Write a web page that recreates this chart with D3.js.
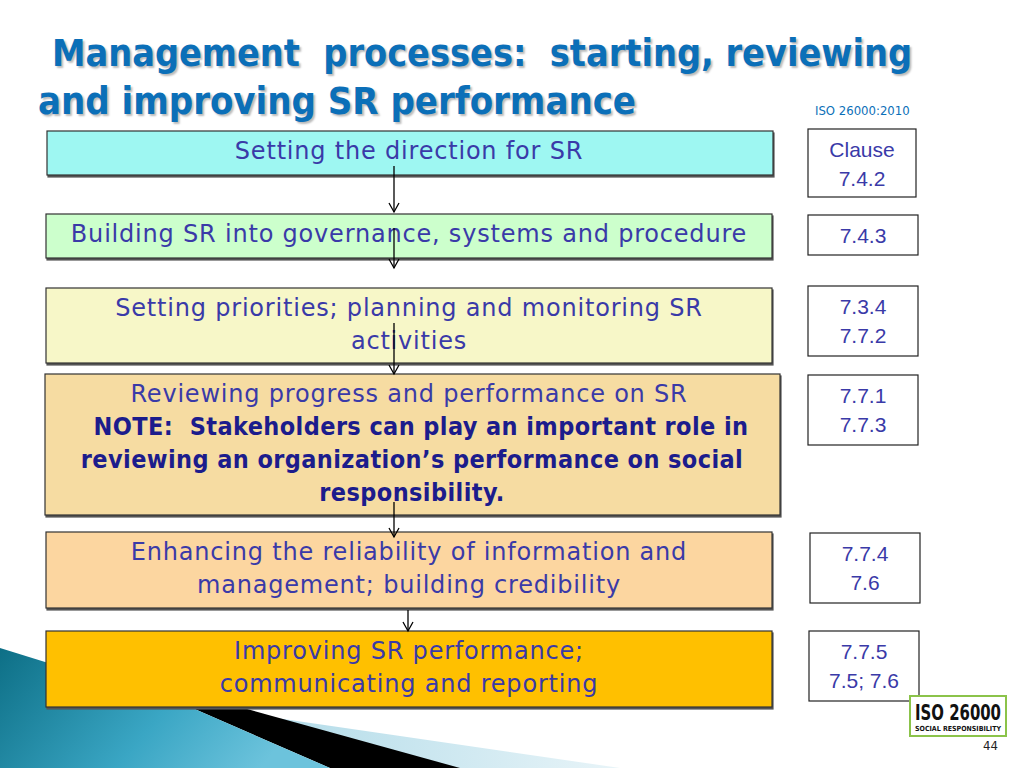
<!DOCTYPE html>
<html>
<head>
<script src="https://cdn.jsdelivr.net/npm/d3@7"></script>
<style>body{margin:0;background:#fff;} svg{display:block;} text{white-space:pre;}</style>
</head>
<body>
<div id="container"></div>
<script>
// Données de la diapositive
const titleLines = ["Management  processes:  starting, reviewing", "and improving SR performance"];
const steps = [
  ["Setting the direction for SR"],
  ["Building SR into governance, systems and procedure"],
  ["Setting priorities; planning and monitoring SR", "activities"],
  ["Reviewing progress and performance on SR"],
  ["Enhancing the reliability of information and", "management; building credibility"],
  ["Improving SR performance;", "communicating and reporting"]
];
const noteLines = ["NOTE:  Stakeholders can play an important role in", "reviewing an organization’s performance on social", "responsibility."];
const clauses = [["Clause", "7.4.2"], ["7.4.3"], ["7.3.4", "7.7.2"], ["7.7.1", "7.7.3"], ["7.7.4", "7.6"], ["7.7.5", "7.5; 7.6"]];
const fills = ["#9ef7f2", "#ccffcc", "#f7f7c8", "#f6dca2", "#fcd6a0", "#ffc000"];

// Mise en page
const boxes = [
  {x: 47, y: 131, w: 726, h: 44},
  {x: 46, y: 214, w: 726, h: 44},
  {x: 46, y: 288, w: 726, h: 75},
  {x: 45, y: 374, w: 735, h: 141},
  {x: 46, y: 532, w: 726, h: 76},
  {x: 46, y: 631, w: 726, h: 76}
];
const cboxes = [
  {x: 808, y: 129, w: 108, h: 68},
  {x: 808, y: 215, w: 110, h: 40},
  {x: 808, y: 286, w: 110, h: 70},
  {x: 808, y: 375, w: 110, h: 70},
  {x: 810, y: 533, w: 110, h: 70},
  {x: 809, y: 631, w: 110, h: 70}
];
const arrows = [[394, 166, 212], [394, 228, 268], [394, 323, 374], [394, 502, 537], [408, 610, 631]];

const svg = d3.select("#container").append("svg").attr("width", 1024).attr("height", 768);

// Décor en bas à gauche
const defs = svg.append("defs");
const g1 = defs.append("linearGradient").attr("id", "teal").attr("x1", 0).attr("y1", 0).attr("x2", 1).attr("y2", 0.3);
g1.append("stop").attr("offset", 0).attr("stop-color", "#0d6f86");
g1.append("stop").attr("offset", 0.6).attr("stop-color", "#3aa6c4");
g1.append("stop").attr("offset", 1).attr("stop-color", "#6cc3dc");
const g2 = defs.append("linearGradient").attr("id", "light").attr("x1", 0).attr("y1", 0).attr("x2", 1).attr("y2", 0);
g2.append("stop").attr("offset", 0).attr("stop-color", "#a8d7e6");
g2.append("stop").attr("offset", 1).attr("stop-color", "#e8f4f8");
svg.append("polygon").attr("points", "200,707 620,768 330,768").attr("fill", "url(#light)");
svg.append("polygon").attr("points", "190,707 240,707 460,768 330,768").attr("fill", "#000");
svg.append("polygon").attr("points", "0,648 190,707 330,768 0,768").attr("fill", "url(#teal)");

// Titre
svg.append("g").selectAll("text").data(titleLines).join("text")
  .attr("x", (d, i) => i ? 38 : 52).attr("y", (d, i) => 66 + i * 48)
  .attr("font-family", "DejaVu Sans Condensed").attr("font-weight", "bold").attr("font-size", 37)
  .attr("textLength", (d, i) => i ? 598 : 860).attr("lengthAdjust", "spacingAndGlyphs")
  .attr("fill", "#0b6fb8").style("text-shadow", "2px 2px 2px #bbb").text(d => d);
svg.append("text").attr("x", 815).attr("y", 115).attr("font-family", "DejaVu Sans Condensed")
  .attr("font-size", 13).attr("fill", "#0b6fb8").text("ISO 26000:2010");

// Boîtes des étapes
const sg = svg.append("g").selectAll("g").data(steps).join("g");
sg.append("rect").attr("x", (d, i) => boxes[i].x).attr("y", (d, i) => boxes[i].y)
  .attr("width", (d, i) => boxes[i].w).attr("height", (d, i) => boxes[i].h)
  .attr("fill", (d, i) => fills[i]).attr("stroke", "#333").attr("stroke-width", 1.2)
  .style("filter", "drop-shadow(1px 2px 0px #555)");
sg.each(function(lines, i) {
  const b = boxes[i];
  d3.select(this).selectAll("text.l").data(lines).join("text")
    .attr("x", 409).attr("y", (d, j) => b.y + 28 + j * 33)
    .attr("text-anchor", "middle").attr("font-family", "DejaVu Sans").attr("font-size", 24)
    .attr("letter-spacing", 0.8).attr("fill", "#3a3aa8").text(d => d);
});
svg.append("g").selectAll("text").data(noteLines).join("text")
  .attr("x", (d, i) => i === 0 ? 421 : 412).attr("y", (d, i) => 435 + i * 33)
  .attr("text-anchor", "middle").attr("font-family", "DejaVu Sans Condensed").attr("font-weight", "bold")
  .attr("font-size", 25).attr("letter-spacing", 0.4).attr("fill", "#1c1c8c").text(d => d);

// Flèches
const ag = svg.append("g").selectAll("g").data(arrows).join("g");
ag.append("line").attr("x1", d => d[0]).attr("x2", d => d[0]).attr("y1", d => d[1]).attr("y2", d => d[2])
  .attr("stroke", "#000").attr("stroke-width", 1.3);
ag.append("path").attr("d", d => `M${d[0] - 5},${d[2] - 9} L${d[0]},${d[2]} L${d[0] + 5},${d[2] - 9}`)
  .attr("fill", "none").attr("stroke", "#000").attr("stroke-width", 1.3);

// Boîtes des clauses
const cg = svg.append("g").selectAll("g").data(clauses).join("g");
cg.append("rect").attr("x", (d, i) => cboxes[i].x).attr("y", (d, i) => cboxes[i].y)
  .attr("width", (d, i) => cboxes[i].w).attr("height", (d, i) => cboxes[i].h)
  .attr("fill", "#fff").attr("stroke", "#222").attr("stroke-width", 1.2);
cg.each(function(lines, i) {
  const b = cboxes[i];
  d3.select(this).selectAll("text").data(lines).join("text")
    .attr("x", b.x + b.w / 2).attr("y", (d, j) => b.y + 28 + j * 29)
    .attr("text-anchor", "middle").attr("font-family", "Liberation Sans").attr("font-size", 21)
    .attr("fill", "#3a3aa8").text(d => d);
});

// Logo ISO
const logo = svg.append("g");
logo.append("rect").attr("x", 910).attr("y", 696).attr("width", 96).attr("height", 40).attr("fill", "#fff")
  .attr("stroke", "#8bc34a").attr("stroke-width", 2);
logo.append("text").attr("x", 915).attr("y", 720).attr("font-family", "DejaVu Sans Condensed")
  .attr("font-weight", "bold").attr("font-size", 21).attr("textLength", 86).attr("lengthAdjust", "spacingAndGlyphs")
  .attr("fill", "#111").text("ISO 26000");
logo.append("text").attr("x", 915).attr("y", 731).attr("font-family", "DejaVu Sans Condensed")
  .attr("font-weight", "bold").attr("font-size", 7).attr("textLength", 86).attr("lengthAdjust", "spacingAndGlyphs")
  .attr("fill", "#111").text("SOCIAL RESPONSIBILITY");
svg.append("text").attr("x", 998).attr("y", 750).attr("text-anchor", "end").attr("font-family", "DejaVu Sans Condensed")
  .attr("font-size", 13).attr("fill", "#222").text("44");
</script>
</body>
</html>
